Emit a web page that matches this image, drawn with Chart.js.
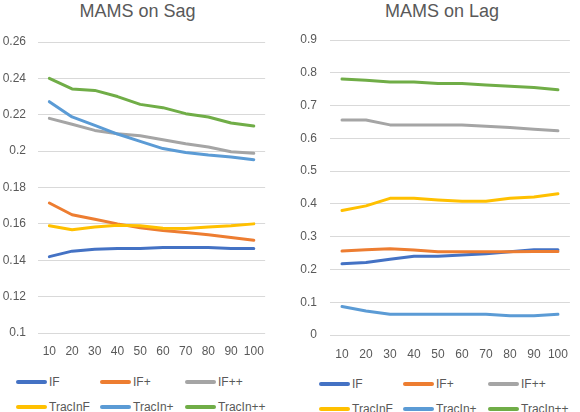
<!DOCTYPE html>
<html>
<head>
<meta charset="utf-8">
<script src="https://cdn.jsdelivr.net/npm/chart.js@4.4.1/dist/chart.umd.min.js"></script>
<style>
  html, body { margin: 0; padding: 0; background: #fff; width: 580px; height: 412px; overflow: hidden; }
  body { position: relative; font-family: "Liberation Sans", Arial, sans-serif; }
  .cv { position: absolute; top: 0; }
  .title { position: absolute; top: 0; font-size: 18px; color: #595959; text-align: center; line-height: 22px; white-space: nowrap; }
  .leg { position: absolute; font-size: 12px; color: #595959; white-space: nowrap; }
  .leg .item { position: absolute; height: 14px; line-height: 14px; }
  .leg .sw { position: absolute; left: 0; top: 5px; width: 31px; height: 4px; border-radius: 2px; }
  .leg .tx { position: absolute; left: 33px; top: 0; }
</style>
</head>
<body>
<div class="title" style="left:0;width:275px;">MAMS on Sag</div>
<div class="title" style="left:304px;width:276px;">MAMS on Lag</div>
<canvas id="c1" class="cv" style="left:0;"></canvas>
<canvas id="c2" class="cv" style="left:296px;"></canvas>
<div id="leg1" class="leg"></div>
<div id="leg2" class="leg"></div>
<script>
const categories = ['10','20','30','40','50','60','70','80','90','100'];
const seriesNames = ['IF','IF+','IF++','TracInF','TracIn+','TracIn++'];
const seriesColors = ['#4472C4','#ED7D31','#A5A5A5','#FFC000','#5B9BD5','#70AD47'];

// MAMS on Sag
const sagIF       = [0.142, 0.145, 0.146, 0.1465, 0.1465, 0.147, 0.147, 0.147, 0.1465, 0.1465];
const sagIFp      = [0.1715, 0.165, 0.1625, 0.160, 0.1578, 0.1563, 0.1552, 0.154, 0.1525, 0.151];
const sagIFpp     = [0.218, 0.2148, 0.2114, 0.2096, 0.2085, 0.2063, 0.204, 0.2023, 0.1997, 0.1988];
const sagTracInF  = [0.159, 0.1568, 0.1583, 0.1592, 0.159, 0.1576, 0.1574, 0.1583, 0.159, 0.160];
const sagTracInp  = [0.2272, 0.2188, 0.2142, 0.2094, 0.2054, 0.2014, 0.1993, 0.1979, 0.1968, 0.1953];
const sagTracInpp = [0.240, 0.2342, 0.2334, 0.230, 0.2257, 0.2239, 0.2206, 0.2188, 0.2155, 0.2138];
const sagTicks = ['0.1','0.12','0.14','0.16','0.18','0.2','0.22','0.24','0.26'];

// MAMS on Lag
const lagIF       = [0.217, 0.221, 0.231, 0.240, 0.240, 0.244, 0.248, 0.254, 0.260, 0.260];
const lagIFp      = [0.256, 0.260, 0.263, 0.259, 0.254, 0.254, 0.254, 0.254, 0.255, 0.255];
const lagIFpp     = [0.656, 0.656, 0.641, 0.641, 0.641, 0.641, 0.637, 0.633, 0.628, 0.623];
const lagTracInF  = [0.380, 0.394, 0.417, 0.417, 0.412, 0.408, 0.408, 0.417, 0.421, 0.431];
const lagTracInp  = [0.087, 0.073, 0.063, 0.063, 0.063, 0.063, 0.063, 0.059, 0.059, 0.063];
const lagTracInpp = [0.781, 0.777, 0.772, 0.772, 0.767, 0.767, 0.763, 0.759, 0.755, 0.748];
const lagTicks = ['0','0.1','0.2','0.3','0.4','0.5','0.6','0.7','0.8','0.9'];

const FONT = '"Liberation Sans", Arial, sans-serif';

function makeChart(id, w, h, seriesList, yMin, yMax, step, tickLabels, geo) {
  const cv = document.getElementById(id);
  cv.style.width = w + 'px';
  cv.style.height = h + 'px';
  cv.width = w; cv.height = h;
  const datasets = seriesList.map((d, i) => ({
    label: seriesNames[i],
    data: d,
    borderColor: seriesColors[i],
    backgroundColor: seriesColors[i],
    borderWidth: 3,
    pointRadius: 0,
    tension: 0,
    fill: false,
    borderCapStyle: 'round',
    borderJoinStyle: 'round',
    order: seriesList.length - i
  }));
  return new Chart(cv, {
    type: 'line',
    data: { labels: categories, datasets },
    options: {
      responsive: false,
      animation: false,
      devicePixelRatio: 1,
      layout: { padding: { top: geo.top, right: geo.right, left: 0, bottom: 0 } },
      plugins: { legend: { display: false }, title: { display: false }, tooltip: { enabled: false } },
      scales: {
        x: {
          type: 'category',
          offset: true,
          grid: { display: false, drawTicks: false },
          border: { display: false },
          ticks: { color: '#595959', font: { family: FONT, size: 12 }, padding: geo.xpad, maxRotation: 0, autoSkip: false },
          afterFit: s => { s.height = geo.xh; }
        },
        y: {
          min: yMin, max: yMax,
          grid: { color: '#D9D9D9', lineWidth: 1, drawTicks: false },
          border: { display: false },
          ticks: {
            stepSize: step,
            color: '#595959',
            font: { family: FONT, size: 12 },
            padding: geo.ypad,
            callback: (v, i) => tickLabels[i]
          },
          afterFit: s => { s.width = geo.yw; }
        }
      }
    }
  });
}

makeChart('c1', 275, 372,
  [sagIF, sagIFp, sagIFpp, sagTracInF, sagTracInp, sagTracInpp],
  0.1, 0.26, 0.02, sagTicks,
  { top: 42, right: 4, xh: 39, yw: 38, xpad: 11, ypad: 12 });

makeChart('c2', 284, 372,
  [lagIF, lagIFp, lagIFpp, lagTracInF, lagTracInp, lagTracInpp],
  0, 0.9, 0.1, lagTicks,
  { top: 40, right: 1, xh: 37, yw: 34, xpad: 12, ypad: 13 });

function buildLegend(id, x0, rows) {
  const el = document.getElementById(id);
  const colX = [0, 84, 169];
  seriesNames.forEach((n, i) => {
    const it = document.createElement('div');
    it.className = 'item';
    it.style.left = (x0 + colX[i % 3]) + 'px';
    it.style.top = (rows[Math.floor(i / 3)] - 7) + 'px';
    const sw = document.createElement('div');
    sw.className = 'sw';
    sw.style.background = seriesColors[i];
    const tx = document.createElement('div');
    tx.className = 'tx';
    tx.textContent = n;
    it.appendChild(sw); it.appendChild(tx);
    el.appendChild(it);
  });
}
buildLegend('leg1', 16, [382, 407]);
buildLegend('leg2', 319, [384, 409]);
</script>
</body>
</html>
